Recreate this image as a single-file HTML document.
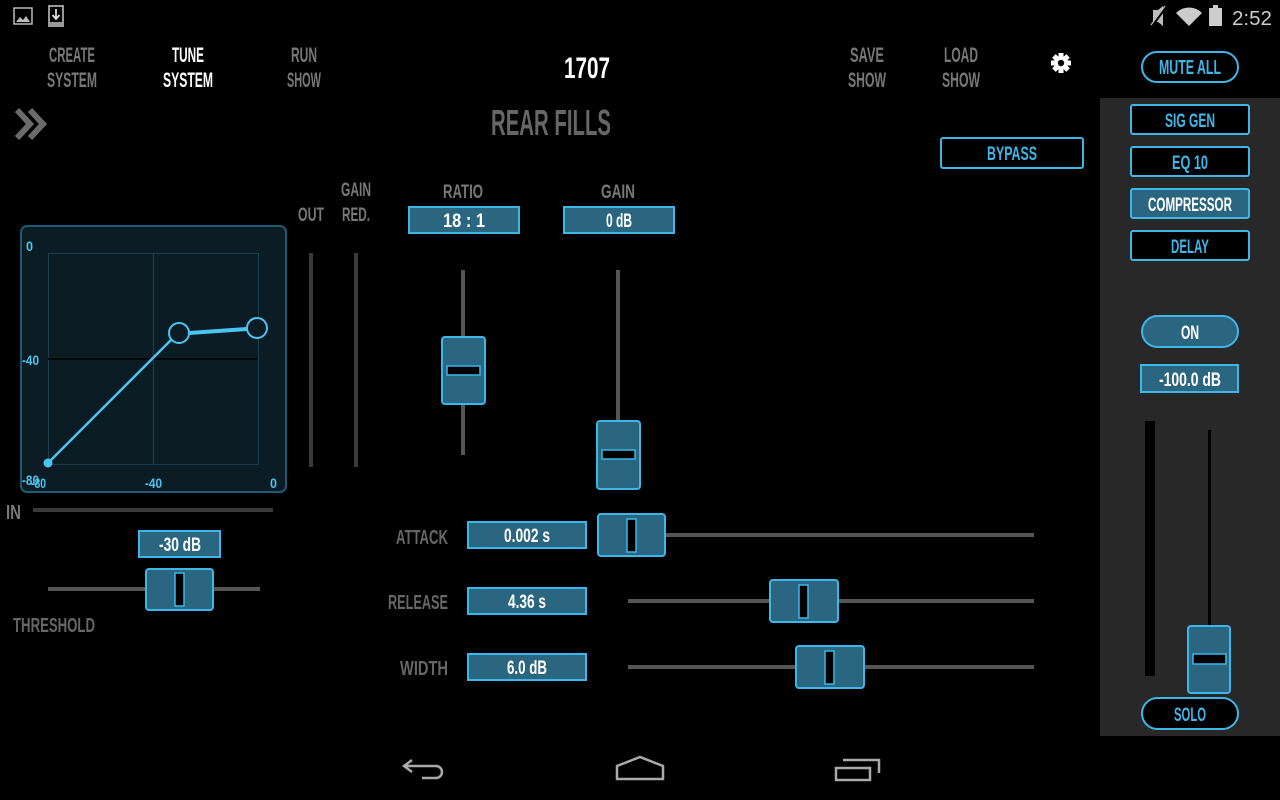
<!DOCTYPE html>
<html><head><meta charset="utf-8"><style>
html,body{margin:0;padding:0;background:#000;width:1280px;height:800px;overflow:hidden}
svg{display:block}
text{font-family:"Liberation Sans",sans-serif;font-weight:bold}
</style></head><body>
<svg width="1280" height="800" viewBox="0 0 1280 800" xmlns="http://www.w3.org/2000/svg">
<rect width="1280" height="800" fill="#000"/>
<!-- status bar -->
<rect x="14" y="8" width="18" height="16" fill="none" stroke="#bbb" stroke-width="1.5"/>
<path d="M16 22 L20 17 L23 20 L26 16 L30 22Z" fill="#bbb"/>
<rect x="48" y="5" width="16" height="22" fill="#999"/>
<rect x="50" y="7" width="12" height="15" fill="#000"/>
<path d="M56 9 V18 M52.5 15 L56 19 L59.5 15" stroke="#ddd" stroke-width="1.8" fill="none"/>
<path d="M1153 10 L1158 10 L1163 6 V26 L1158 22 L1153 22Z" fill="#bbb"/>
<line x1="1152" y1="26" x2="1166" y2="7" stroke="#000" stroke-width="2.5"/>
<line x1="1151" y1="25" x2="1165" y2="6" stroke="#bbb" stroke-width="1.3"/>
<path d="M1176 13 A18 18 0 0 1 1202 13 L1189 26Z" fill="#ccc"/>
<rect x="1209" y="8" width="13" height="18" fill="#ccc"/><rect x="1213" y="5" width="5" height="3" fill="#ccc"/>
<text x="1232" y="25" font-size="20" fill="#ccc" style="font-weight:normal" textLength="40" lengthAdjust="spacingAndGlyphs">2:52</text>

<!-- nav -->
<g font-size="21" text-anchor="middle">
<text x="72" y="62" fill="#777" textLength="46" lengthAdjust="spacingAndGlyphs">CREATE</text>
<text x="72" y="87" fill="#777" textLength="50" lengthAdjust="spacingAndGlyphs">SYSTEM</text>
<text x="188" y="62" fill="#fff" textLength="32" lengthAdjust="spacingAndGlyphs">TUNE</text>
<text x="188" y="87" fill="#fff" textLength="50" lengthAdjust="spacingAndGlyphs">SYSTEM</text>
<text x="304" y="62" fill="#777" textLength="26" lengthAdjust="spacingAndGlyphs">RUN</text>
<text x="304" y="87" fill="#777" textLength="34" lengthAdjust="spacingAndGlyphs">SHOW</text>
<text x="867" y="62" fill="#777" textLength="34" lengthAdjust="spacingAndGlyphs">SAVE</text>
<text x="867" y="87" fill="#777" textLength="38" lengthAdjust="spacingAndGlyphs">SHOW</text>
<text x="961" y="62" fill="#777" textLength="34" lengthAdjust="spacingAndGlyphs">LOAD</text>
<text x="961" y="87" fill="#777" textLength="38" lengthAdjust="spacingAndGlyphs">SHOW</text>
<text x="587" y="78" font-size="30" fill="#fff" textLength="46" lengthAdjust="spacingAndGlyphs">1707</text>
<text x="551" y="135" font-size="36" fill="#666" textLength="120" lengthAdjust="spacingAndGlyphs">REAR FILLS</text>
</g>
<!-- gear -->
<g transform="translate(1061,63)" fill="#fff">
<circle r="7"/>
<g><rect x="-2.5" y="-10" width="5" height="20"/><rect x="-10" y="-2.5" width="20" height="5"/>
<rect x="-2.5" y="-10" width="5" height="20" transform="rotate(45)"/><rect x="-2.5" y="-10" width="5" height="20" transform="rotate(-45)"/></g>
<circle r="3.2" fill="#000"/>
</g>
<!-- chevrons -->
<path d="M17 110 L30 124 L17 138 M30 110 L43 124 L30 138" stroke="#6a6a6a" stroke-width="6" fill="none"/>

<!-- mute all -->
<rect x="1142" y="52" width="96" height="30" rx="15" fill="#000" stroke="#3fb6e8" stroke-width="2"/>
<text x="1190" y="74" font-size="20" fill="#3fb6e8" text-anchor="middle" textLength="62" lengthAdjust="spacingAndGlyphs">MUTE ALL</text>
<!-- bypass -->
<rect x="941" y="138" width="142" height="30" rx="2" fill="#000" stroke="#3fb6e8" stroke-width="2"/>
<text x="1012" y="160" font-size="19" fill="#3fb6e8" text-anchor="middle" textLength="50" lengthAdjust="spacingAndGlyphs">BYPASS</text>

<!-- side panel -->
<rect x="1100" y="98" width="180" height="638" fill="#282828"/>
<g font-size="19" text-anchor="middle">
<rect x="1131" y="105" width="118" height="29" rx="2" fill="#000" stroke="#3fb6e8" stroke-width="2"/>
<text x="1190" y="127" fill="#3fb6e8" textLength="50" lengthAdjust="spacingAndGlyphs">SIG GEN</text>
<rect x="1131" y="147" width="118" height="29" rx="2" fill="#000" stroke="#3fb6e8" stroke-width="2"/>
<text x="1190" y="169" fill="#3fb6e8" textLength="36" lengthAdjust="spacingAndGlyphs">EQ 10</text>
<rect x="1131" y="189" width="118" height="29" rx="2" fill="#2a6680" stroke="#3fb6e8" stroke-width="2"/>
<text x="1190" y="211" fill="#fff" textLength="84" lengthAdjust="spacingAndGlyphs">COMPRESSOR</text>
<rect x="1131" y="231" width="118" height="29" rx="2" fill="#000" stroke="#3fb6e8" stroke-width="2"/>
<text x="1190" y="253" fill="#3fb6e8" textLength="38" lengthAdjust="spacingAndGlyphs">DELAY</text>
<rect x="1142" y="316" width="96" height="31" rx="15.5" fill="#2a6680" stroke="#3fb6e8" stroke-width="2"/>
<text x="1190" y="339" fill="#fff" textLength="18" lengthAdjust="spacingAndGlyphs">ON</text>
<rect x="1141" y="365" width="97" height="27" fill="#2a6680" stroke="#3fb6e8" stroke-width="2"/>
<text x="1190" y="386" fill="#fff" textLength="62" lengthAdjust="spacingAndGlyphs">-100.0 dB</text>
<rect x="1142" y="698" width="96" height="31" rx="15.5" fill="#000" stroke="#3fb6e8" stroke-width="2"/>
<text x="1190" y="721" fill="#3fb6e8" textLength="32" lengthAdjust="spacingAndGlyphs">SOLO</text>
</g>
<rect x="1145" y="421" width="10" height="255" fill="#000"/>
<rect x="1208" y="430" width="3" height="200" fill="#000"/>
<rect x="1188" y="626" width="42" height="67" rx="3" fill="#2a6680" stroke="#3fb6e8" stroke-width="2"/>
<rect x="1193" y="654" width="33" height="10" fill="#000" stroke="#3fb6e8" stroke-width="1.5"/>

<!-- graph -->
<rect x="21" y="226" width="265" height="266" rx="6" fill="#0c1c24" stroke="#1e5a74" stroke-width="2"/>
<rect x="48.5" y="253.5" width="210" height="211" fill="none" stroke="#1c3e4c" stroke-width="1"/>
<line x1="153.5" y1="253" x2="153.5" y2="465" stroke="#1c3e4c" stroke-width="1.2"/>
<line x1="48" y1="359" x2="258" y2="359" stroke="#000" stroke-width="1.5"/>
<line x1="48" y1="463" x2="172" y2="339" stroke="#4cc4f0" stroke-width="2.5"/>
<line x1="189" y1="333" x2="247" y2="329" stroke="#4cc4f0" stroke-width="4"/>
<circle cx="48" cy="463" r="4.5" fill="#4cc4f0"/>
<circle cx="179" cy="333" r="10" fill="#0c1c24" stroke="#4cc4f0" stroke-width="2"/>
<circle cx="257" cy="328" r="10" fill="#0c1c24" stroke="#4cc4f0" stroke-width="2"/>
<g font-size="14" fill="#4cc4f0">
<text x="26" y="251" textLength="7" lengthAdjust="spacingAndGlyphs">0</text>
<text x="22" y="365" textLength="17" lengthAdjust="spacingAndGlyphs">-40</text>
<text x="22" y="485" textLength="17" lengthAdjust="spacingAndGlyphs">-80</text>
<text x="31" y="488" textLength="15" lengthAdjust="spacingAndGlyphs">-80</text>
<text x="145" y="488" textLength="17" lengthAdjust="spacingAndGlyphs">-40</text>
<text x="270" y="488" textLength="7" lengthAdjust="spacingAndGlyphs">0</text>
</g>

<!-- meters labels -->
<g font-size="19" fill="#777" text-anchor="middle">
<text x="311" y="221" textLength="26" lengthAdjust="spacingAndGlyphs">OUT</text>
<text x="356" y="196" textLength="30" lengthAdjust="spacingAndGlyphs">GAIN</text>
<text x="356" y="221" textLength="28" lengthAdjust="spacingAndGlyphs">RED.</text>
<text x="463" y="198" textLength="40" lengthAdjust="spacingAndGlyphs">RATIO</text>
<text x="618" y="198" textLength="34" lengthAdjust="spacingAndGlyphs">GAIN</text>
</g>
<rect x="309" y="253" width="4" height="214" fill="#3a3a3a"/>
<rect x="354" y="253" width="4" height="214" fill="#3a3a3a"/>

<!-- IN / threshold -->
<text x="6" y="519" font-size="20" fill="#777" textLength="15" lengthAdjust="spacingAndGlyphs">IN</text>
<rect x="33" y="508" width="240" height="4" fill="#3a3a3a"/>
<rect x="139" y="531" width="81" height="26" fill="#2a6680" stroke="#3fb6e8" stroke-width="2"/>
<text x="180" y="551" font-size="19" fill="#fff" text-anchor="middle" textLength="42" lengthAdjust="spacingAndGlyphs">-30 dB</text>
<rect x="48" y="587" width="212" height="4" fill="#555"/>
<rect x="146" y="569" width="67" height="41" rx="3" fill="#2a6680" stroke="#3fb6e8" stroke-width="2"/>
<rect x="175" y="573" width="9" height="33" fill="#000" stroke="#3fb6e8" stroke-width="1.5"/>
<text x="13" y="632" font-size="20" fill="#666" textLength="82" lengthAdjust="spacingAndGlyphs">THRESHOLD</text>

<!-- ratio/gain -->
<g font-size="19" fill="#fff" text-anchor="middle">
<rect x="409" y="207" width="110" height="26" fill="#2a6680" stroke="#3fb6e8" stroke-width="2"/>
<text x="464" y="227" textLength="42" lengthAdjust="spacingAndGlyphs">18 : 1</text>
<rect x="564" y="207" width="110" height="26" fill="#2a6680" stroke="#3fb6e8" stroke-width="2"/>
<text x="619" y="227" textLength="26" lengthAdjust="spacingAndGlyphs">0 dB</text>
</g>
<rect x="461" y="270" width="4" height="185" fill="#555"/>
<rect x="442" y="337" width="43" height="67" rx="3" fill="#2a6680" stroke="#3fb6e8" stroke-width="2"/>
<rect x="447" y="366" width="33" height="9" fill="#000" stroke="#3fb6e8" stroke-width="1.5"/>
<rect x="616" y="270" width="4" height="152" fill="#555"/>
<rect x="597" y="421" width="43" height="68" rx="3" fill="#2a6680" stroke="#3fb6e8" stroke-width="2"/>
<rect x="602" y="450" width="33" height="9" fill="#000" stroke="#3fb6e8" stroke-width="1.5"/>

<!-- attack/release/width -->
<g font-size="20" fill="#666" text-anchor="end">
<text x="448" y="544" textLength="52" lengthAdjust="spacingAndGlyphs">ATTACK</text>
<text x="448" y="609" textLength="60" lengthAdjust="spacingAndGlyphs">RELEASE</text>
<text x="448" y="675" textLength="48" lengthAdjust="spacingAndGlyphs">WIDTH</text>
</g>
<g font-size="19" fill="#fff" text-anchor="middle">
<rect x="468" y="522" width="118" height="26" fill="#2a6680" stroke="#3fb6e8" stroke-width="2"/>
<text x="527" y="542" textLength="46" lengthAdjust="spacingAndGlyphs">0.002 s</text>
<rect x="468" y="588" width="118" height="26" fill="#2a6680" stroke="#3fb6e8" stroke-width="2"/>
<text x="527" y="608" textLength="38" lengthAdjust="spacingAndGlyphs">4.36 s</text>
<rect x="468" y="654" width="118" height="26" fill="#2a6680" stroke="#3fb6e8" stroke-width="2"/>
<text x="527" y="674" textLength="40" lengthAdjust="spacingAndGlyphs">6.0 dB</text>
</g>
<rect x="628" y="533" width="406" height="4" fill="#555"/>
<rect x="628" y="599" width="406" height="4" fill="#555"/>
<rect x="628" y="665" width="406" height="4" fill="#555"/>
<rect x="598" y="514" width="67" height="42" rx="3" fill="#2a6680" stroke="#3fb6e8" stroke-width="2"/>
<rect x="627" y="519" width="9" height="33" fill="#000" stroke="#3fb6e8" stroke-width="1.5"/>
<rect x="770" y="580" width="68" height="42" rx="3" fill="#2a6680" stroke="#3fb6e8" stroke-width="2"/>
<rect x="799" y="585" width="9" height="33" fill="#000" stroke="#3fb6e8" stroke-width="1.5"/>
<rect x="796" y="646" width="68" height="42" rx="3" fill="#2a6680" stroke="#3fb6e8" stroke-width="2"/>
<rect x="825" y="651" width="9" height="33" fill="#000" stroke="#3fb6e8" stroke-width="1.5"/>

<!-- nav bar -->
<g stroke="#aaa" stroke-width="2.5" fill="none">
<path d="M412 760 L404 766 L412 772 M404 766 H436 A6 6 0 0 1 436 778 H422"/>
<path d="M617 779 V766 L640 757 L663 766 V779 Z"/>
<path d="M836 768 H870 V780 H836 Z M843 760 H879 V773"/>
</g>
</svg>
</body></html>
